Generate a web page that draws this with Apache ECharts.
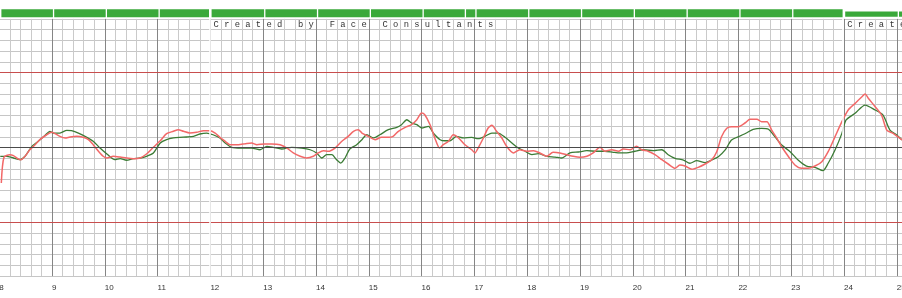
<!DOCTYPE html>
<html>
<head>
<meta charset="utf-8">
<script src="https://cdn.jsdelivr.net/npm/echarts@6/dist/echarts.min.js"></script>
<style>
html,body{margin:0;padding:0;background:#fff;}
#c{width:902px;height:298px;}
</style>
</head>
<body>
<div id="c"></div>
<script>
// ---- data ----
const hourTicks = [8,9,10,11,12,13,14,15,16,17,18,19,20,21,22,23,24,25];
const barBreaks = [8,9,10,11,12,13,14,15,16,16.8,17,18,19,20,21,22,23,24,25,26];
const brandText = 'Created by Face Consultants';
const brandStarts = [12, 24];
const limitLines = [7, -7];
const baseLine = [0];
const pageBreaks = [12, 24];

const redX = [8.04,8.09,8.20,8.27,8.36,8.41,8.49,8.58,8.68,8.77,
8.90,8.99,9.06,9.15,9.25,9.34,9.47,9.59,9.69,9.78,
9.88,9.97,10.04,10.16,10.29,10.41,10.54,10.67,10.79,10.92,
11.05,11.17,11.30,11.39,11.49,11.61,11.74,11.87,11.99,12.09,
12.18,12.28,12.37,12.53,12.66,12.78,12.88,13.03,13.16,13.32,
13.45,13.57,13.70,13.82,13.95,14.04,14.14,14.23,14.36,14.49,
14.61,14.71,14.80,14.87,14.99,15.12,15.24,15.37,15.46,15.56,
15.69,15.81,15.91,16.00,16.06,16.16,16.25,16.34,16.41,16.51,
16.60,16.70,16.82,16.95,17.01,17.07,17.17,17.26,17.33,17.42,
17.52,17.61,17.74,17.86,17.99,18.12,18.24,18.37,18.49,18.62,
18.75,18.87,19.00,19.13,19.25,19.38,19.47,19.60,19.73,19.82,
19.95,20.07,20.17,20.29,20.42,20.55,20.67,20.80,20.89,20.99,
21.12,21.24,21.37,21.49,21.59,21.68,21.78,21.87,22.00,22.13,
22.22,22.35,22.44,22.54,22.63,22.73,22.82,22.95,23.07,23.20,
23.32,23.45,23.58,23.70,23.83,23.96,24.08,24.21,24.34,24.40,
24.46,24.59,24.71,24.81,24.93,25.10];
const redY = [-3.31,-0.91,-0.67,-0.76,-1.07,-1.14,-0.82,-0.21,0.26,0.73,
1.19,1.42,1.29,1.04,0.89,0.98,1.04,0.95,0.73,0.26,
-0.35,-0.82,-0.98,-0.82,-0.89,-0.98,-1.04,-0.98,-0.61,0.02,
0.63,1.29,1.51,1.66,1.51,1.35,1.42,1.57,1.57,1.35,
0.95,0.58,0.26,0.26,0.35,0.42,0.26,0.33,0.33,0.26,
-0.05,-0.51,-0.82,-0.98,-0.82,-0.51,-0.30,-0.35,-0.05,0.58,
1.04,1.51,1.66,1.35,1.04,0.73,0.95,0.95,1.04,1.51,
1.88,2.13,2.59,3.22,3.06,2.13,0.89,-0.05,0.26,0.58,
1.19,0.89,0.26,-0.21,-0.51,-0.05,0.89,1.82,2.07,1.51,
0.89,0.11,-0.51,-0.21,-0.35,-0.30,-0.51,-0.82,-0.45,-0.51,
-0.67,-0.82,-0.91,-0.82,-0.51,0.02,-0.35,-0.21,-0.35,-0.14,
-0.21,0.11,-0.21,-0.35,-0.67,-1.14,-1.54,-1.94,-1.63,-1.73,
-2.03,-1.85,-1.54,-1.17,-0.39,1.01,1.79,1.94,1.94,2.31,
2.63,2.63,2.41,2.41,1.63,0.86,0.07,-0.86,-1.63,-1.94,
-1.94,-1.73,-1.32,-0.39,1.01,2.41,3.50,4.12,4.74,4.99,
4.59,3.81,3.03,1.63,1.32,0.70];

const greenX = [8.02,8.14,8.27,8.39,8.49,8.62,8.74,8.87,8.96,9.02,
9.15,9.28,9.37,9.50,9.66,9.78,9.91,10.04,10.19,10.29,
10.41,10.54,10.67,10.79,10.92,11.05,11.17,11.30,11.42,11.55,
11.68,11.80,11.93,12.05,12.18,12.28,12.40,12.59,12.78,12.94,
13.07,13.19,13.35,13.54,13.73,13.89,14.01,14.11,14.20,14.30,
14.39,14.47,14.55,14.64,14.77,14.87,14.96,15.09,15.21,15.37,
15.53,15.62,15.72,15.81,15.91,16.00,16.13,16.22,16.35,16.44,
16.54,16.66,16.79,16.95,17.07,17.20,17.33,17.45,17.58,17.71,
17.83,17.96,18.09,18.21,18.37,18.53,18.65,18.81,18.97,19.13,
19.32,19.47,19.63,19.76,19.88,20.04,20.20,20.39,20.55,20.67,
20.80,20.96,21.08,21.21,21.37,21.49,21.62,21.75,21.87,22.03,
22.16,22.28,22.44,22.57,22.69,22.82,22.98,23.13,23.29,23.45,
23.60,23.70,23.83,23.96,24.04,24.21,24.40,24.59,24.74,24.87,
25.00,25.10];
const greenY = [-0.82,-0.82,-0.98,-1.14,-0.82,0.11,0.58,1.14,1.51,1.35,
1.35,1.60,1.57,1.35,0.95,0.58,-0.05,-0.61,-1.14,-1.04,
-1.19,-1.04,-0.98,-0.82,-0.51,0.42,0.73,0.89,0.95,0.98,
1.04,1.26,1.35,1.19,0.89,0.42,0.02,-0.05,-0.05,-0.21,
0.11,0.02,-0.14,0.02,-0.05,-0.21,-0.51,-0.98,-0.67,-0.67,
-1.14,-1.45,-0.98,-0.14,0.26,0.73,1.19,0.89,1.19,1.66,
1.88,2.13,2.59,2.29,2.13,1.82,1.98,1.35,0.73,0.63,
0.63,1.04,0.89,0.95,0.82,1.04,1.35,1.35,0.95,0.42,
-0.05,-0.35,-0.67,-0.58,-0.82,-0.89,-0.98,-0.51,-0.42,-0.30,
-0.35,-0.35,-0.45,-0.51,-0.51,-0.35,-0.21,-0.30,-0.21,-0.67,
-1.01,-1.17,-1.47,-1.23,-1.42,-1.17,-0.86,-0.23,0.70,1.07,
1.38,1.70,1.79,1.70,1.01,0.23,-0.39,-1.17,-1.73,-1.85,
-2.16,-1.47,-0.23,1.32,2.57,3.19,3.96,3.50,3.03,1.63,
1.17,0.70];

// ---- chart ----
const chart = echarts.init(document.getElementById('c'), null, {renderer: 'canvas'});

const markData = [];
limitLines.forEach(v => markData.push({yAxis: v, lineStyle: {color: '#c84e4e', width: 1.2, type: 'solid'}}));
baseLine.forEach(v => markData.push({yAxis: v, lineStyle: {color: '#4a4a4a', width: 1.2, type: 'solid'}}));
pageBreaks.forEach(v => markData.push({xAxis: v - 0.023, lineStyle: {color: '#ffffff', width: 1.6, type: 'solid'}}));

const option = {
  animation: false,
  backgroundColor: '#ffffff',
  grid: {left: -0.8, right: -47.6, top: 18.9, bottom: 21.9, containLabel: false, outerBoundsMode: 'none'},
  xAxis: {
    type: 'value', min: 8, max: 26, interval: 1,
    axisLine: {show: false}, axisTick: {show: false},
    axisLabel: {
      show: true, align: 'left', margin: 8, fontSize: 8, color: '#333',
      fontFamily: 'Liberation Sans, Arial, sans-serif',
      formatter: v => hourTicks.indexOf(v) >= 0 ? String(v) : ''
    },
    splitLine: {show: true, lineStyle: {color: '#858585', width: 1}},
    minorTick: {show: false, splitNumber: 5},
    minorSplitLine: {show: true, lineStyle: {color: '#cacaca', width: 1}}
  },
  yAxis: {
    type: 'value', min: -12, max: 12, interval: 1,
    axisLine: {show: false}, axisTick: {show: false}, axisLabel: {show: false},
    splitLine: {show: true, lineStyle: {color: '#c6c6c6', width: 1}}
  },
  series: [
    {
      type: 'line', name: 'refs', data: [], z: 1, silent: true,
      markLine: {silent: true, symbol: ['none', 'none'], label: {show: false}, animation: false, data: markData}
    },
    {
      type: 'line', name: 'green', z: 3, showSymbol: false, smooth: 0.25,
      data: greenX.map((x, i) => [x, greenY[i]]),
      lineStyle: {color: '#3b7b35', width: 1.3}
    },
    {
      type: 'line', name: 'red', z: 4, showSymbol: false, smooth: 0.25,
      data: redX.map((x, i) => [x, redY[i]]),
      lineStyle: {color: '#f26868', width: 1.5}
    }
  ]
};
chart.setOption(option);

// decorations: green header bar and brand text, positioned through the axis scale
const px = v => chart.convertToPixel({xAxisIndex: 0}, v);
const graphics = [];
for (let i = 0; i < barBreaks.length - 1; i++) {
  const a = barBreaks[i], b = barBreaks[i + 1];
  const bigA = pageBreaks.indexOf(a) >= 0, bigB = pageBreaks.indexOf(b) >= 0;
  const x0 = px(a) + (bigA ? 1.2 : 2.2);
  const x1 = px(b) + (bigB ? -1.4 : 0.9);
  const thin = a >= 24;
  graphics.push({
    type: 'rect', silent: true,
    shape: {x: x0, y: thin ? 11.6 : 9.3, width: Math.max(0, x1 - x0), height: thin ? 5.2 : 8},
    style: {fill: '#3aa93a'}
  });
}
const cell = (px(9) - px(8)) / 5;
const spaced = brandText.split('').join(' ');
brandStarts.forEach(s => {
  graphics.push({
    type: 'text', silent: true, x: px(s) + 3.2, y: 24.2,
    style: {text: spaced, font: (cell / 1.2).toFixed(2) + 'px "Liberation Mono", monospace', fill: '#333', verticalAlign: 'middle', align: 'left'}
  });
});
chart.setOption({graphic: graphics});
</script>
</body>
</html>
